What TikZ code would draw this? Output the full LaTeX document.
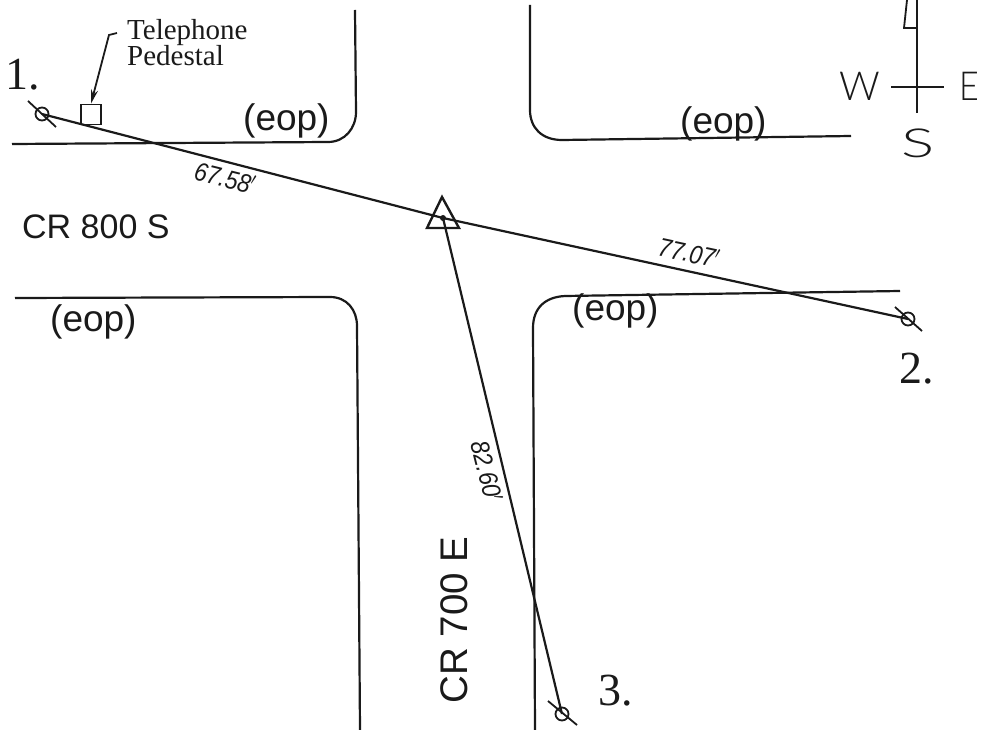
\documentclass[tikz,border=0pt]{standalone}
\usepackage{fontspec}
\setmainfont{Liberation Serif}
\setsansfont{Liberation Sans}
\newfontfamily\lightfont[UprightFont=* Light]{Lato}
\usetikzlibrary{arrows.meta}
\definecolor{ink}{HTML}{1A1A1A}
\tikzset{
  road/.style={draw=ink,line width=2.2pt},
  survey/.style={draw=ink,line width=2.2pt},
  thin mark/.style={draw=ink,line width=1.8pt},
  lbl/.style={text=ink,font=\sffamily\fontsize{37}{37}\selectfont,inner sep=0pt},
  crlbl/.style={text=ink,font=\sffamily\fontsize{34}{34}\selectfont,inner sep=0pt},
  crvert/.style={text=ink,font=\sffamily\fontsize{38.5}{38.5}\selectfont,inner sep=0pt},
  dist/.style={text=ink,font=\sffamily\itshape\fontsize{26}{26}\selectfont,inner sep=0pt},
  num/.style={text=ink,font=\rmfamily\fontsize{46}{46}\selectfont,inner sep=0pt},
  small/.style={text=ink,inner sep=0pt,font=\rmfamily\fontsize{29}{29}\selectfont},
  compass/.style={text=ink,font=\lightfont\fontsize{40}{40}\selectfont,inner sep=0pt},
  station/.style={circle,draw=ink,line width=1.8pt,minimum size=13pt,inner sep=0pt}
}
\begin{document}
\begin{tikzpicture}[x=1pt,y=-1pt]
\useasboundingbox (0,0) rectangle (983,730);
\fill[white] (0,0) rectangle (983,730);
% roads
\draw[road] (12,144) -- (328,142) .. controls (345,142) and (356,128) .. (356,112) -- (355,10);
\draw[road] (530,5) -- (530,110) .. controls (530,128) and (542,140) .. (562,140) -- (851,136);
\draw[road] (15,298) -- (330,297) .. controls (347,297) and (357,310) .. (357,326) -- (360,730);
\draw[road] (900,291) -- (565,296) .. controls (545,297) and (533,308) .. (533,328) -- (535,730);
% survey points
\coordinate (c) at (443,218);
\node[station] (p1) at (42,114) {};
\node[station] (p2) at (908,319) {};
\node[station] (p3) at (562,714) {};
\draw[survey] (p1.center) -- (c) -- (p2.center);
\draw[survey] (c) -- (p3.center);
\draw[thin mark] (28,101) -- (56,127);
\draw[thin mark] (895,307) -- (922,331);
\draw[thin mark] (548,701) -- (577,725);
\fill[ink] (c) circle (3);
\coordinate (t1) at (442,197);
\coordinate (t2) at (427,228);
\coordinate (t3) at (459,228);
\draw[draw=ink,line width=2.4pt,line join=miter] (t1) -- (t2) -- (t3) -- cycle;
% pedestal
\node[draw=ink,line width=1.8pt,minimum size=20pt,inner sep=0pt] (ped) at (91,114.5) {};
\coordinate (lead) at (117,33);
\coordinate (bend) at (109,35);
\draw[draw=ink,line width=1.8pt,-{Stealth[length=14pt,width=7pt]}] (lead) -- (bend) -- (ped.north);
\node[small,anchor=base west] (tel) at (127,40) {Telephone};
\node[small,anchor=base west] (ped2) at (127,66) {Pedestal};
% labels
\node[crlbl,anchor=base west] (cr8) at (22,239) {CR 800 S};
\node[crvert,anchor=base,rotate=90] (cr7) at (467,620) {CR 700 E};
\node[lbl,anchor=base west] (e1) at (243,131) {(eop)};
\node[lbl,anchor=base west] (e2) at (680,134) {(eop)};
\node[lbl,anchor=base west] (e3) at (50,331) {(eop)};
\node[lbl,anchor=base west] (e4) at (572,320) {(eop)};
\node[dist,rotate=-14,xscale=.88] (d1) at (225,178) {67.58$'$};
\node[dist,rotate=-12,xscale=.88] (d2) at (689,253) {77.07$'$};
\node[dist,rotate=-76,xscale=.88] (d3) at (487,471) {82.60$'$};
\node[num,anchor=base west] (n1) at (5,90) {1.};
\node[num,anchor=base west] (n2) at (899,383) {2.};
\node[num,anchor=base west] (n3) at (598,705) {3.};
% north arrow
\coordinate (na) at (917,0);
\coordinate (nb) at (917,113);
\coordinate (wa) at (891,87);
\coordinate (wb) at (944,87);
\draw[thin mark] (na) -- (nb);
\draw[thin mark] (wa) -- (wb);
\draw[thin mark] (907,0) -- (904,28) -- (917,28);
\node[compass,anchor=base] (w) at (860,101) {W};
\node[compass,anchor=base west,xscale=.85] (ee) at (959,101) {E};
\node[compass,anchor=base,xscale=1.55] (s) at (918,158) {S};
\end{tikzpicture}
\end{document}
